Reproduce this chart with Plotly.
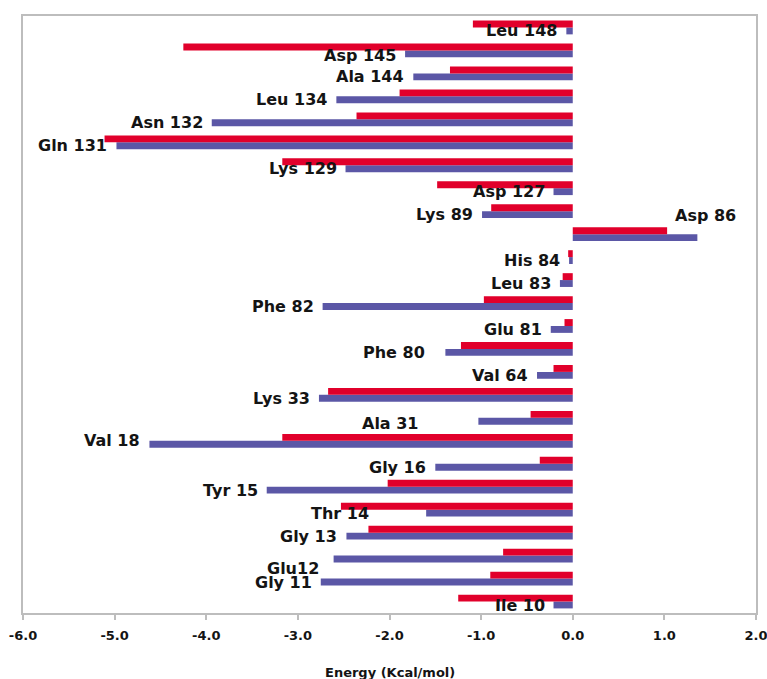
import plotly.graph_objects as go

# Residues, bottom to top
residues = ["Ile 10", "Gly 11", "Glu12", "Gly 13", "Thr 14", "Tyr 15", "Gly 16", "Val 18",
            "Ala 31", "Lys 33", "Val 64", "Phe 80", "Glu 81", "Phe 82", "Leu 83", "His 84",
            "Asp 86", "Lys 89", "Asp 127", "Lys 129", "Gln 131", "Asn 132", "Leu 134",
            "Ala 144", "Asp 145", "Leu 148"]

# Red series (upper bar of each pair)
red_values = [-1.25, -0.90, -0.76, -2.23, -2.53, -2.02, -0.36, -3.17,
              -0.46, -2.67, -0.21, -1.22, -0.09, -0.97, -0.11, -0.05,
              1.03, -0.89, -1.48, -3.17, -5.11, -2.36, -1.89,
              -1.34, -4.25, -1.09]

# Blue series (lower bar of each pair)
blue_values = [-0.21, -2.75, -2.61, -2.47, -1.60, -3.34, -1.50, -4.62,
               -1.03, -2.77, -0.39, -1.39, -0.24, -2.73, -0.14, -0.04,
               1.36, -0.99, -0.21, -2.48, -4.98, -3.94, -2.58,
               -1.74, -1.83, -0.07]

x_ticks = [-6, -5, -4, -3, -2, -1, 0, 1, 2]
x_tick_labels = ["-6.0", "-5.0", "-4.0", "-3.0", "-2.0", "-1.0", "0.0", "1.0", "2.0"]
x_title = "Energy (Kcal/mol)"

RED = "#E1002B"
BLUE = "#5B57A6"
TEXT = "#141414"
BORDER = "#BDBDBD"

fig = go.Figure()
fig.add_trace(go.Bar(y=residues, x=blue_values, orientation="h",
                     marker=dict(color=BLUE, line=dict(width=0)), showlegend=False))
fig.add_trace(go.Bar(y=residues, x=red_values, orientation="h",
                     marker=dict(color=RED, line=dict(width=0)), showlegend=False))

# Label placement: by default right-aligned just left of the blue bar end
label_x_override = {"Thr 14": -2.13, "Ala 31": -1.58, "Glu12": -2.67, "Phe 80": -1.51}
label_yshift_override = {"Ala 31": -5.5, "Glu12": -12.7, "Val 18": 0.0, "Asp 145": -4.8}

annotations = []
for name, b in zip(residues, blue_values):
    if name == "Asp 86":
        annotations.append(dict(x=1.45, y=name, xref="x", yref="y", text=name,
                                showarrow=False, xanchor="center", yanchor="middle",
                                yshift=19,
                                font=dict(family="DejaVu Sans", size=16, color=TEXT, weight="bold")))
        continue
    ax = label_x_override.get(name, min(b, 0))
    ys = label_yshift_override.get(name, -3.5)
    annotations.append(dict(x=ax, y=name, xref="x", yref="y", text=name,
                            showarrow=False, xanchor="right", yanchor="middle",
                            xshift=-7, yshift=ys,
                            font=dict(family="DejaVu Sans", size=16, color=TEXT, weight="bold")))

annotations.append(dict(x=0.5, y=-0.099, xref="paper", yref="paper", text=x_title,
                        showarrow=False, xanchor="center", yanchor="middle",
                        font=dict(family="DejaVu Sans", size=13, color=TEXT, weight="bold")))

fig.update_layout(
    width=767, height=679,
    margin=dict(l=23, r=11, t=16, b=66, autoexpand=False),
    paper_bgcolor="white", plot_bgcolor="white",
    barmode="group", bargap=0.4, bargroupgap=0,
    annotations=annotations,
)
fig.update_xaxes(range=[-6, 2], tickmode="array", tickvals=x_ticks, ticktext=x_tick_labels,
                 ticks="outside", ticklen=5, tickcolor=BORDER, tickwidth=1.5,
                 ticklabelstandoff=5, automargin=False, ticklabeloverflow="allow",
                 tickfont=dict(family="DejaVu Sans", size=13, color=TEXT, weight="bold"),
                 showline=True, linecolor=BORDER, linewidth=1.5, mirror=True,
                 showgrid=False, zeroline=False)
fig.update_yaxes(type="category", categoryorder="array", categoryarray=residues,
                 range=[-0.5, len(residues) - 0.5], showticklabels=False, ticks="",
                 automargin=False,
                 showline=True, linecolor=BORDER, linewidth=1.5, mirror=True,
                 showgrid=False, zeroline=False)

fig.write_html("out.html",
               config={"displayModeBar": False},
               post_script="document.body.style.margin='0';document.body.style.overflow='hidden';")
